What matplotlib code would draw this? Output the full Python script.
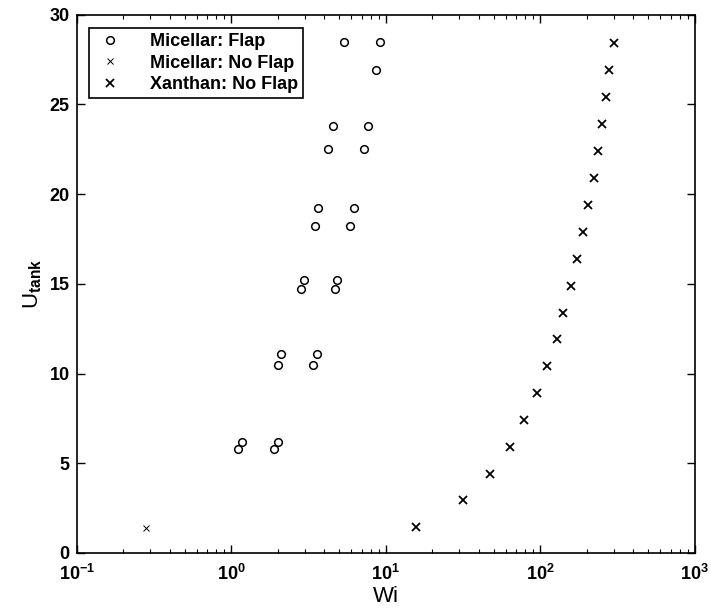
import numpy as np
import matplotlib.pyplot as plt
from matplotlib.ticker import LogLocator, NullFormatter, MultipleLocator

plt.rcParams['font.family'] = ['Liberation Sans', 'DejaVu Sans']
plt.rcParams['mathtext.fontset'] = 'custom'
plt.rcParams['mathtext.rm'] = 'Liberation Sans:bold'
plt.rcParams['mathtext.it'] = 'Liberation Sans:bold'
plt.rcParams['mathtext.bf'] = 'Liberation Sans:bold'
plt.rcParams['mathtext.default'] = 'rm'

# Micellar: Flap (circles)
wi_flap = [5.4, 9.2, 8.6, 4.56, 7.7, 4.25, 7.2, 3.65, 6.2, 3.47, 5.88,
           2.97, 2.84, 4.87, 4.71, 2.11, 2.01, 3.6, 3.37, 1.18, 1.11, 2.01, 1.88]
u_flap = [28.5, 28.5, 26.9, 23.8, 23.8, 22.5, 22.5, 19.2, 19.2, 18.2, 18.2,
          15.2, 14.7, 15.2, 14.7, 11.1, 10.5, 11.1, 10.5, 6.2, 5.8, 6.2, 5.8]

# Micellar: No Flap (small crosses)
wi_mic_noflap = [0.28]
u_mic_noflap = [1.4]

# Xanthan: No Flap (bold crosses)
wi_xan = [15.7, 31.6, 47.5, 64, 79, 95.6, 111, 128, 140, 159, 174, 190,
          205, 222, 238, 252, 267, 281, 301]
u_xan = [1.45, 2.95, 4.4, 5.9, 7.4, 8.9, 10.4, 11.9, 13.4, 14.9, 16.4, 17.9,
         19.4, 20.9, 22.4, 23.9, 25.4, 26.9, 28.4]

xticks = [0.1, 1, 10, 100, 1000]
xtick_labels = ['$10^{-1}$', '$10^{0}$', '$10^{1}$', '$10^{2}$', '$10^{3}$']

fig = plt.figure(figsize=(7.11, 6.13), dpi=100)
ax = fig.add_axes([0.108, 0.098, 0.869, 0.878])

ax.plot(wi_flap, u_flap, 'o', ls='none', mfc='none', mec='k', ms=5.5, mew=1.1,
        label='Micellar: Flap')
ax.plot(wi_mic_noflap, u_mic_noflap, 'x', ls='none', color='k', ms=5, mew=0.7,
        label='Micellar: No Flap')
ax.plot(wi_xan, u_xan, 'x', ls='none', color='k', ms=5.5, mew=1.3,
        label='Xanthan: No Flap')

ax.set_xscale('log')
ax.set_xlim(0.1, 1000)
ax.set_ylim(0, 30)
ax.set_xticks(xticks)
ax.set_xticklabels(xtick_labels)
ax.xaxis.set_minor_locator(LogLocator(base=10, subs=np.arange(2, 10), numticks=10))
ax.xaxis.set_minor_formatter(NullFormatter())
ax.yaxis.set_major_locator(MultipleLocator(5))

ax.tick_params(which='both', direction='in', top=True, right=True)
ax.tick_params(which='major', length=6, width=1, labelsize=13)
ax.tick_params(axis='x', which='major', pad=8)
ax.tick_params(axis='y', which='major', pad=5)
ax.tick_params(which='minor', length=3, width=0.8)
for lab in ax.get_yticklabels():
    lab.set_fontweight('bold')
for sp in ax.spines.values():
    sp.set_linewidth(1.2)

ax.set_xlabel('Wi', fontsize=16, labelpad=1)
ax.set_ylabel(r'U$_{tank}$', fontsize=16, labelpad=4)

leg = ax.legend(loc='upper left', bbox_to_anchor=(0.019, 0.976), fancybox=False,
                edgecolor='k', framealpha=1, borderaxespad=0,
                prop={'weight': 'bold', 'size': 13}, handletextpad=1.3,
                labelspacing=0.25, borderpad=0.3, handlelength=1.8)
leg.get_frame().set_linewidth(1.2)

fig.savefig('out.png', dpi=100)
